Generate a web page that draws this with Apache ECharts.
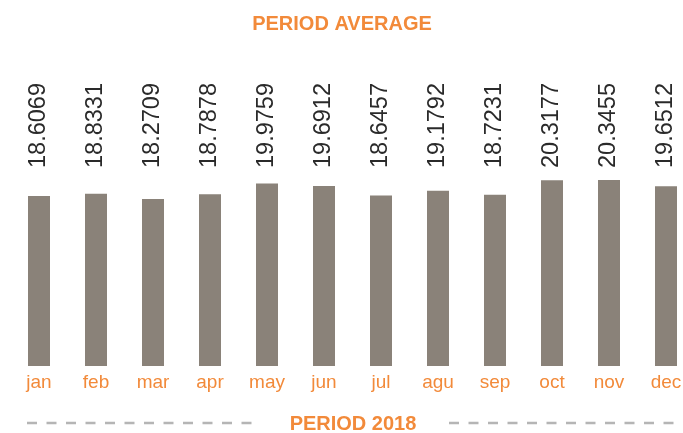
<!DOCTYPE html>
<html>
<head>
<meta charset="utf-8">
<script src="https://cdn.jsdelivr.net/npm/echarts@6/dist/echarts.min.js"></script>
<style>html,body{margin:0;padding:0;background:#fff;overflow:hidden}#c{width:696px;height:433px}</style>
</head>
<body>
<div id="c"></div>
<script>
var months = ['jan','feb','mar','apr','may','jun','jul','agu','sep','oct','nov','dec'];
var values = [18.6069, 18.8331, 18.2709, 18.7878, 19.9759, 19.6912, 18.6457, 19.1792, 18.7231, 20.3177, 20.3455, 19.6512];
var valueLabels = ['18.6069','18.8331','18.2709','18.7878','19.9759','19.6912','18.6457','19.1792','18.7231','20.3177','20.3455','19.6512'];
var titleText = 'PERIOD AVERAGE';
var footerText = 'PERIOD 2018';

var orange = '#F28A3A';
var chart = echarts.init(document.getElementById('c'), null, {renderer: 'canvas'});
chart.setOption({
  animation: false,
  title: {
    text: titleText, left: 337, textAlign: 'center', top: 9,
    textStyle: {color: orange, fontSize: 20, fontWeight: 'bold', fontFamily: 'Liberation Sans, Arial, sans-serif'}
  },
  grid: {left: 10.5, width: 684, top: 170, bottom: 67, containLabel: false},
  xAxis: [{
    type: 'category', data: months, position: 'bottom',
    axisLine: {show: false}, axisTick: {show: false},
    axisLabel: {color: orange, fontSize: 19, margin: 7, fontFamily: 'Liberation Sans, Arial, sans-serif'}
  }, {
    type: 'category', data: valueLabels, position: 'top',
    axisLine: {show: false}, axisTick: {show: false},
    axisLabel: {color: '#2a2a2a', fontSize: 23.5, rotate: -90, margin: 2, fontFamily: 'Liberation Sans, Arial, sans-serif'}
  }],
  yAxis: {type: 'value', min: 0, max: 21.44, show: false, splitLine: {show: false}},
  series: [{
    type: 'bar', data: values, barWidth: 22, xAxisIndex: 0,
    itemStyle: {color: '#8A8279'}
  }],
  graphic: [
    {type: 'line', shape: {x1: 27, y1: 423, x2: 252, y2: 423}, style: {stroke: '#B5B5B5', lineWidth: 2.5, lineDash: [10, 9.5]}},
    {type: 'line', shape: {x1: 449, y1: 423, x2: 683, y2: 423}, style: {stroke: '#B5B5B5', lineWidth: 2.5, lineDash: [10, 9.5]}},
    {type: 'text', x: 353, y: 424, style: {text: footerText, fill: orange, font: 'bold 20px Liberation Sans, Arial, sans-serif', textAlign: 'center', textVerticalAlign: 'middle'}}
  ]
});
</script>
</body>
</html>
